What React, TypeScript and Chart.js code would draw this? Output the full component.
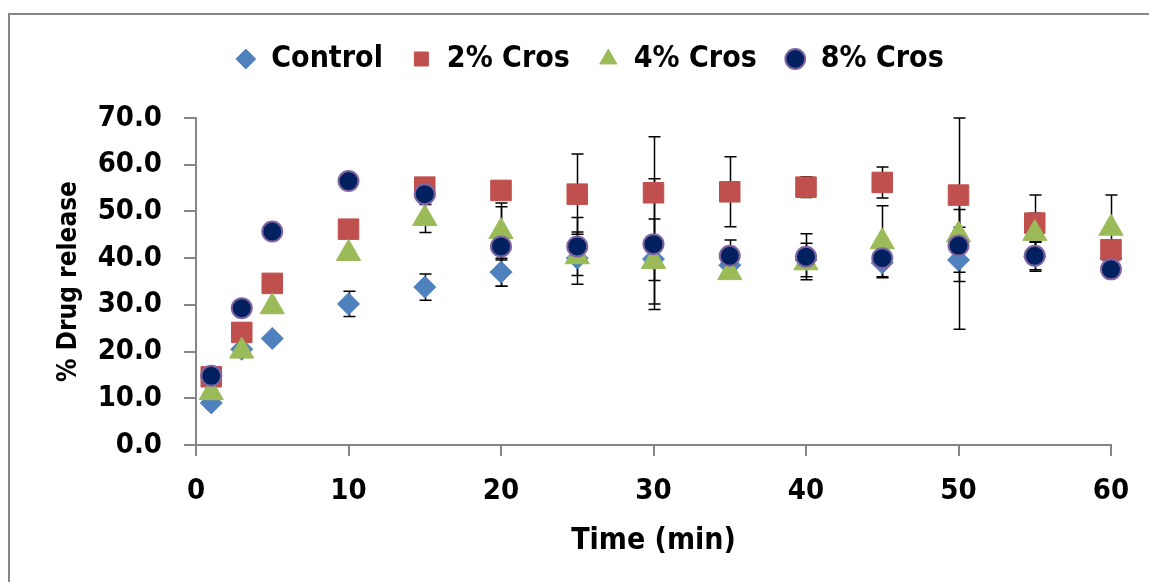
import React, { useEffect, useRef } from 'react';
import { Chart, registerables } from 'chart.js';

Chart.register(...registerables);

// ---- data ----
const times = [1, 3, 5, 10, 15, 20, 25, 30, 35, 40, 45, 50, 55, 60];
const seriesNames = ['Control', '2% Cros', '4% Cros', '8% Cros'];

const control = [9.0, 20.5, 22.8, 30.2, 33.8, 37.0, 40.0, 39.8, 38.5, 39.6, 39.0, 39.6, 40.3, 40.0];
const controlErr = [0.3, 0.4, 0.5, 2.7, 2.8, 3.0, 5.6, 4.6, 1.0, 3.6, 3.0, 14.8, 3.1, 0.5];

const cros2 = [14.6, 24.1, 34.6, 46.2, 55.2, 54.5, 53.7, 54.0, 54.2, 55.2, 56.2, 53.5, 47.5, 41.8];
const cros2Err = [0.3, 0.5, 0.5, 0.8, 0.6, 0.8, 8.6, 12.0, 7.5, 2.2, 3.3, 16.5, 6.0, 0.8];

const cros4 = [11.2, 20.1, 29.6, 41.0, 48.5, 45.7, 40.3, 39.3, 36.9, 39.0, 43.5, 45.0, 45.3, 46.4];
const cros4Err = [0.3, 0.4, 0.6, 0.5, 3.0, 6.1, 1.0, 9.1, 0.8, 1.0, 7.7, 1.6, 4.3, 7.1];

const cros8 = [14.8, 29.3, 45.7, 56.5, 53.7, 42.5, 42.5, 43.0, 40.5, 40.3, 40.0, 42.7, 40.5, 37.6];
const cros8Err = [0.3, 0.4, 0.5, 0.6, 0.8, 8.5, 6.2, 14.0, 3.4, 4.9, 1.0, 7.7, 3.0, 0.5];

const seriesValues = [control, cros2, cros4, cros8];
const seriesErrors = [controlErr, cros2Err, cros4Err, cros8Err];

const xTitle = 'Time (min)';
const yTitle = '% Drug release';

// ---- layout / style ----
const W = 1149;
const H = 582;
const PAD_LEFT = 68;
const PAD_RIGHT = 38;
const PAD_TOP = 16;
const AREA_LEFT = 196;
const AREA_TOP = 118;
const AREA_BOTTOM = 445;
const FONT = "'DejaVu Sans Condensed', 'DejaVu Sans', sans-serif";
const AXIS_GRAY = '#868686';

const styles = [
  { pointStyle: 'rectRot', radius: 11, bg: '#4F81BD', border: '#4F81BD', bw: 1 },
  { pointStyle: 'rect', radius: 14.5, bg: '#C0504D', border: '#C0504D', bw: 1 },
  { pointStyle: 'triangle', radius: 14, bg: '#9BBB59', border: '#9BBB59', bw: 1 },
  { pointStyle: 'circle', radius: 10, bg: '#002060', border: '#8064A2', bw: 2 },
];

const errorBarPlugin = {
  id: 'errorBars',
  beforeDatasetsDraw(chart: any) {
    const { ctx } = chart;
    const xs = chart.scales.x;
    const ys = chart.scales.y;
    const cap = 6;
    ctx.save();
    ctx.strokeStyle = '#000';
    ctx.lineWidth = 1.5;
    seriesValues.forEach((vals, i) => {
      const errs = seriesErrors[i];
      vals.forEach((v, j) => {
        const px = Math.round(xs.getPixelForValue(times[j])) + 0.5;
        const hi = Math.min(v + errs[j], ys.max);
        const lo = Math.max(v - errs[j], ys.min);
        const pt = ys.getPixelForValue(hi);
        const pb = ys.getPixelForValue(lo);
        ctx.beginPath();
        ctx.moveTo(px, pt);
        ctx.lineTo(px, pb);
        ctx.moveTo(px - cap, pt);
        ctx.lineTo(px + cap, pt);
        ctx.moveTo(px - cap, pb);
        ctx.lineTo(px + cap, pb);
        ctx.stroke();
      });
    });
    ctx.restore();
  },
};

const legendSpacer = {
  id: 'legendSpacer',
  beforeInit(chart: any) {
    const legend = chart.legend;
    if (!legend) return;
    const orig = legend.fit;
    legend.fit = function () {
      orig.call(this);
      this.height = AREA_TOP - PAD_TOP;
    };
  },
};

export default function App() {
  const ref = useRef<HTMLCanvasElement | null>(null);

  useEffect(() => {
    if (!ref.current) return;
    const datasets = seriesNames.map((name, i) => ({
      label: name,
      data: seriesValues[i].map((v, j) => ({ x: times[j], y: v })),
      pointStyle: styles[i].pointStyle,
      pointRadius: styles[i].radius,
      pointHoverRadius: styles[i].radius,
      backgroundColor: styles[i].bg,
      borderColor: styles[i].border,
      pointBorderWidth: styles[i].bw,
      borderWidth: styles[i].bw,
      showLine: false,
      clip: false,
      order: 3 - i,
    }));

    const chart = new Chart(ref.current, {
      type: 'scatter',
      data: { datasets },
      plugins: [legendSpacer, errorBarPlugin],
      options: {
        animation: false,
        responsive: false,
        events: [],
        layout: { padding: { left: PAD_LEFT, right: PAD_RIGHT, top: PAD_TOP, bottom: 0 } },
        plugins: {
          tooltip: { enabled: false },
          legend: {
            display: true,
            position: 'top',
            align: 'center',
            labels: {
              usePointStyle: true,
              boxWidth: 21,
              boxHeight: 14,
              padding: 28,
              color: '#000',
              font: { family: FONT, size: 30, weight: 'bold' },
              sort: (a: any, b: any) => a.datasetIndex - b.datasetIndex,
            },
          },
        },
        scales: {
          x: {
            type: 'linear',
            min: 0,
            max: 60,
            afterFit: (s: any) => {
              s.height = H - AREA_BOTTOM;
            },
            ticks: {
              stepSize: 10,
              color: '#000',
              padding: 18,
              font: { family: FONT, size: 29, weight: 'bold' },
              maxRotation: 0,
            },
            grid: {
              drawOnChartArea: false,
              drawTicks: true,
              tickLength: 11,
              color: AXIS_GRAY,
              lineWidth: 2,
            },
            border: { display: true, color: AXIS_GRAY, width: 2 },
            title: {
              display: true,
              text: xTitle,
              color: '#000',
              font: { family: FONT, size: 30, weight: 'bold' },
              padding: { top: 0, bottom: 23 },
            },
          },
          y: {
            type: 'linear',
            min: 0,
            max: 70,
            afterFit: (s: any) => {
              s.width = AREA_LEFT - PAD_LEFT;
            },
            ticks: {
              stepSize: 10,
              color: '#000',
              padding: 22,
              font: { family: FONT, size: 29, weight: 'bold' },
              callback: (v: any) => Number(v).toFixed(1),
            },
            grid: {
              drawOnChartArea: false,
              drawTicks: true,
              tickLength: 12,
              color: AXIS_GRAY,
              lineWidth: 2,
            },
            border: { display: true, color: AXIS_GRAY, width: 2 },
            title: {
              display: true,
              text: yTitle,
              color: '#000',
              font: { family: FONT, size: 26, weight: 'bold' },
              padding: { top: -14, bottom: 0 },
            },
          },
        },
      } as any,
    });
    return () => chart.destroy();
  }, []);

  return (
    <div style={{ position: 'fixed', left: 0, top: 0, width: W, height: H, background: '#fff', overflow: 'hidden' }}>
      <div
        style={{
          position: 'absolute',
          left: 8,
          top: 13,
          width: W + 20,
          height: H + 20,
          borderLeft: '2.5px solid #868686',
          borderTop: '2.5px solid #868686',
          boxSizing: 'border-box',
        }}
      />
      <canvas ref={ref} width={W} height={H} style={{ position: 'absolute', left: 0, top: 0 }} />
    </div>
  );
}
